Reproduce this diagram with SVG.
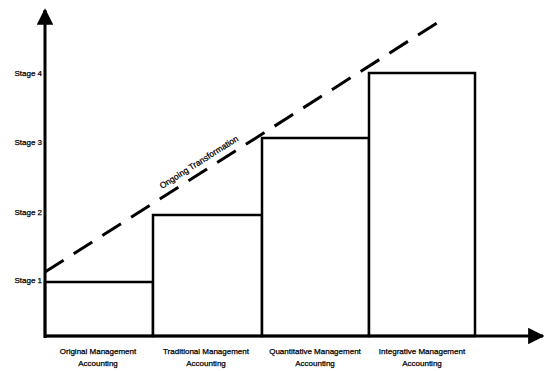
<svg xmlns="http://www.w3.org/2000/svg" width="544" height="371" viewBox="0 0 544 371">
<style>
.ax{stroke:#000;stroke-width:3;fill:none}
.bar{stroke:#000;stroke-width:2.5;fill:#fff}
.lbl{font-family:"Liberation Sans",Arial,sans-serif;font-size:8.5px;fill:#000;stroke:#000;stroke-width:0.25}
.st{font-family:"Liberation Sans",Arial,sans-serif;font-size:8px;fill:#000;stroke:#000;stroke-width:0.25;text-anchor:end}
.cat{font-family:"Liberation Sans",Arial,sans-serif;font-size:8px;fill:#000;stroke:#000;stroke-width:0.25;text-anchor:middle}
</style>
<defs>
<marker id="ah" viewBox="0 0 10 10" refX="9" refY="5" markerWidth="5.5" markerHeight="5.5" orient="auto" markerUnits="strokeWidth">
<path d="M0,0 L10,5 L0,10 Z" fill="#000"/>
</marker>
</defs>
<g id="bar1"><rect class="bar" x="45" y="282" width="108" height="54"/></g>
<g id="bar2"><rect class="bar" x="153" y="215" width="109" height="121"/></g>
<g id="bar3"><rect class="bar" x="262" y="138" width="107" height="198"/></g>
<g id="bar4"><rect class="bar" x="369" y="73" width="106" height="263"/></g>
<g id="connectors">
<line class="ax" x1="45" y1="338" x2="45" y2="10" marker-end="url(#ah)"/>
<line class="ax" x1="44" y1="336" x2="543" y2="336" marker-end="url(#ah)"/>
<line x1="45" y1="272" x2="440" y2="21" stroke="#000" stroke-width="3" stroke-dasharray="22 12"/>
</g>
<g id="labels">
<text class="st" x="42" y="76">Stage 4</text>
<text class="st" x="42" y="145">Stage 3</text>
<text class="st" x="42" y="215">Stage 2</text>
<text class="st" x="42" y="283">Stage 1</text>
<text class="lbl" transform="translate(162,189) rotate(-32.4)">Ongoing Transformation</text>
<text class="cat" x="98" y="354">Original Management</text>
<text class="cat" x="98" y="366">Accounting</text>
<text class="cat" x="206" y="354">Traditional Management</text>
<text class="cat" x="206" y="366">Accounting</text>
<text class="cat" x="315" y="354">Quantitative Management</text>
<text class="cat" x="315" y="366">Accounting</text>
<text class="cat" x="422" y="354">Integrative Management</text>
<text class="cat" x="422" y="366">Accounting</text>
</g>
</svg>
